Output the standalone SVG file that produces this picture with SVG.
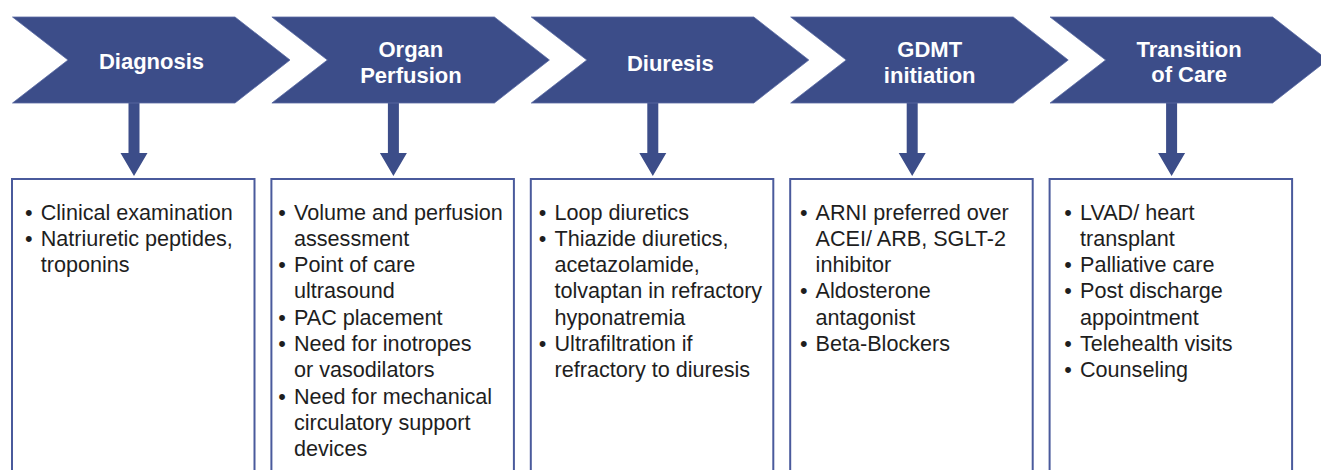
<svg xmlns="http://www.w3.org/2000/svg" width="1321" height="470" viewBox="0 0 1321 470">
<defs>
<style>
.chev{fill:#3c4d89;stroke:#5b6ba3;stroke-width:0.8}
.hd{font-family:"Liberation Sans",Arial,sans-serif;font-weight:bold;font-size:22px;fill:#ffffff;text-anchor:middle}
.box{fill:#ffffff;stroke:#4a5a9c;stroke-width:2}
.arr{fill:#3c4d89}
.bd{font-family:"Liberation Sans",Arial,sans-serif;font-size:21.6px;fill:#1e1e1e}
</style>
</defs>
<rect width="1321" height="470" fill="#ffffff"/>

<g id="connectors">
<polygon class="arr" points="128.5,103 139.5,103 139.5,153 147.5,153 134,176 120.5,153 128.5,153"/>
<polygon class="arr" points="387.9,103 398.9,103 398.9,153 406.9,153 393.4,176 379.9,153 387.9,153"/>
<polygon class="arr" points="647.3,103 658.3,103 658.3,153 666.3,153 652.8,176 639.3,153 647.3,153"/>
<polygon class="arr" points="906.7,103 917.7,103 917.7,153 925.7,153 912.2,176 898.7,153 906.7,153"/>
<polygon class="arr" points="1166.1,103 1177.1,103 1177.1,153 1185.1,153 1171.6,176 1158.1,153 1166.1,153"/>
</g>

<g id="step-diagnosis">
<polygon class="chev" points="12.5,17 235,17 290,60 235,103 12.5,103 68,60"/>
<text class="hd" x="151.5" y="68.5">Diagnosis</text>
</g>
<g id="step-organ-perfusion">
<polygon class="chev" points="271.9,17 494.4,17 549.4,60 494.4,103 271.9,103 327.4,60"/>
<text class="hd" x="410.9" y="57.3">Organ</text>
<text class="hd" x="410.9" y="82.5">Perfusion</text>
</g>
<g id="step-diuresis">
<polygon class="chev" points="531.3,17 753.8,17 808.8,60 753.8,103 531.3,103 586.8,60"/>
<text class="hd" x="670.3" y="70.7">Diuresis</text>
</g>
<g id="step-gdmt">
<polygon class="chev" points="790.7,17 1013.2,17 1068.2,60 1013.2,103 790.7,103 846.2,60"/>
<text class="hd" x="929.7" y="57.3">GDMT</text>
<text class="hd" x="929.7" y="82.5">initiation</text>
</g>
<g id="step-transition">
<polygon class="chev" points="1050.1,17 1272.6,17 1327.6,60 1272.6,103 1050.1,103 1105.6,60"/>
<text class="hd" x="1189.1" y="57">Transition</text>
<text class="hd" x="1189.1" y="82.2">of Care</text>
</g>

<g id="box-diagnosis">
<rect class="box" x="12" y="179" width="242.5" height="300"/>
<text class="bd"><tspan x="25" y="219.5">•</tspan><tspan x="40.7">Clinical examination</tspan></text>
<text class="bd"><tspan x="25" y="245.8">•</tspan><tspan x="40.7">Natriuretic peptides,</tspan></text>
<text class="bd" x="40.7" y="272.1">troponins</text>
</g>
<g id="box-organ-perfusion">
<rect class="box" x="271.4" y="179" width="242.5" height="300"/>
<text class="bd"><tspan x="278.3" y="219.5">•</tspan><tspan x="294">Volume and perfusion</tspan></text>
<text class="bd" x="294" y="245.8">assessment</text>
<text class="bd"><tspan x="278.3" y="272.1">•</tspan><tspan x="294">Point of care</tspan></text>
<text class="bd" x="294" y="298.4">ultrasound</text>
<text class="bd"><tspan x="278.3" y="324.7">•</tspan><tspan x="294">PAC placement</tspan></text>
<text class="bd"><tspan x="278.3" y="351">•</tspan><tspan x="294">Need for inotropes</tspan></text>
<text class="bd" x="294" y="377.3">or vasodilators</text>
<text class="bd"><tspan x="278.3" y="403.6">•</tspan><tspan x="294">Need for mechanical</tspan></text>
<text class="bd" x="294" y="429.9">circulatory support</text>
<text class="bd" x="294" y="456.2">devices</text>
</g>
<g id="box-diuresis">
<rect class="box" x="530.8" y="179" width="242.5" height="300"/>
<text class="bd"><tspan x="538.8" y="219.5">•</tspan><tspan x="554.5">Loop diuretics</tspan></text>
<text class="bd"><tspan x="538.8" y="245.8">•</tspan><tspan x="554.5">Thiazide diuretics,</tspan></text>
<text class="bd" x="554.5" y="272.1">acetazolamide,</text>
<text class="bd" x="554.5" y="298.4">tolvaptan in refractory</text>
<text class="bd" x="554.5" y="324.7">hyponatremia</text>
<text class="bd"><tspan x="538.8" y="351">•</tspan><tspan x="554.5">Ultrafiltration if</tspan></text>
<text class="bd" x="554.5" y="377.3">refractory to diuresis</text>
</g>
<g id="box-gdmt">
<rect class="box" x="790.2" y="179" width="242.5" height="300"/>
<text class="bd"><tspan x="799.9" y="219.5">•</tspan><tspan x="815.6">ARNI preferred over</tspan></text>
<text class="bd" x="815.6" y="245.8">ACEI/ ARB, SGLT-2</text>
<text class="bd" x="815.6" y="272.1">inhibitor</text>
<text class="bd"><tspan x="799.9" y="298.4">•</tspan><tspan x="815.6">Aldosterone</tspan></text>
<text class="bd" x="815.6" y="324.7">antagonist</text>
<text class="bd"><tspan x="799.9" y="351">•</tspan><tspan x="815.6">Beta-Blockers</tspan></text>
</g>
<g id="box-transition">
<rect class="box" x="1049.6" y="179" width="242.5" height="300"/>
<text class="bd"><tspan x="1064.3" y="219.5">•</tspan><tspan x="1080">LVAD/ heart</tspan></text>
<text class="bd" x="1080" y="245.8">transplant</text>
<text class="bd"><tspan x="1064.3" y="272.1">•</tspan><tspan x="1080">Palliative care</tspan></text>
<text class="bd"><tspan x="1064.3" y="298.4">•</tspan><tspan x="1080">Post discharge</tspan></text>
<text class="bd" x="1080" y="324.7">appointment</text>
<text class="bd"><tspan x="1064.3" y="351">•</tspan><tspan x="1080">Telehealth visits</tspan></text>
<text class="bd"><tspan x="1064.3" y="377.3">•</tspan><tspan x="1080">Counseling</tspan></text>
</g>
</svg>
